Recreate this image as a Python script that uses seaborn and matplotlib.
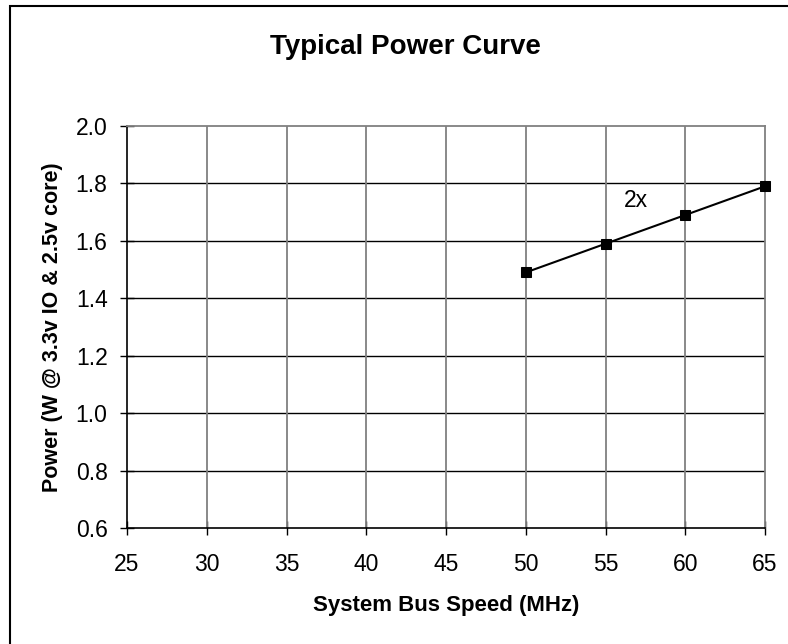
import matplotlib
matplotlib.use("Agg")
import matplotlib.pyplot as plt
import matplotlib.patches as patches
import pandas as pd
import seaborn as sns

# data
bus_speed = [50, 55, 60, 65]
power = [1.49, 1.59, 1.69, 1.79]
x_ticks = [25, 30, 35, 40, 45, 50, 55, 60, 65]
y_ticks = [0.6, 0.8, 1.0, 1.2, 1.4, 1.6, 1.8, 2.0]
series_label = "2x"

df = pd.DataFrame({"speed": bus_speed, "power": power})

sns.set_style("white", {"text.color": "black", "axes.labelcolor": "black",
                        "xtick.color": "black", "ytick.color": "black",
                        "xtick.bottom": True, "ytick.left": True})
plt.rcParams["font.family"] = ["Liberation Sans", "DejaVu Sans"]

fig = plt.figure(figsize=(7.88, 6.44), dpi=100)
fig.subplots_adjust(left=127 / 788, right=765 / 788, top=1 - 126 / 644, bottom=1 - 528 / 644)
ax = fig.add_subplot(111)

sns.lineplot(data=df, x="speed", y="power", ax=ax, color="black", linewidth=1.5,
             marker="s", markersize=7, markeredgecolor="black", clip_on=False, zorder=5)

ax.set_xlim(25, 65)
ax.set_ylim(0.6, 2.0)
ax.set_xticks(x_ticks)
ax.set_yticks(y_ticks)
ax.set_yticklabels(["%.1f" % v for v in y_ticks])

# excel-like grid: dark horizontal lines, grey vertical ones
for v in y_ticks[1:-1]:
    ax.axhline(v, color="black", linewidth=1, zorder=1)
for v in x_ticks[1:-1]:
    ax.axvline(v, color="#808080", linewidth=1.3, zorder=1)

for side in ["left", "bottom"]:
    ax.spines[side].set_color("black")
    ax.spines[side].set_linewidth(1.2)
for side in ["top", "right"]:
    ax.spines[side].set_color("#808080")
    ax.spines[side].set_linewidth(1.3)

ax.tick_params(axis="both", direction="inout", length=10, width=1, color="black",
               labelsize=16.5, labelcolor="black", bottom=True, left=True)
ax.tick_params(axis="x", pad=13)
ax.tick_params(axis="y", pad=9)

ax.set_xlabel("System Bus Speed (MHz)", fontsize=16, fontweight="bold", labelpad=14)
ax.set_ylabel("Power (W @ 3.3v IO & 2.5v core)", fontsize=15.5, fontweight="bold", labelpad=9)
fig.suptitle("Typical Power Curve", fontsize=20, fontweight="bold",
             x=405 / 788, y=1 - 47 / 644, va="center")

ax.text(56.9, 1.742, series_label, fontsize=16.5, ha="center", va="center")

# outer chart frame (cut off at right and bottom like the reference)
frame = patches.Rectangle((10 / 788, -0.1), 1.2, 1.1 - 6 / 644, transform=fig.transFigure,
                          fill=False, edgecolor="black", linewidth=1.5)
fig.patches.append(frame)

fig.savefig("out.png", dpi=100)
